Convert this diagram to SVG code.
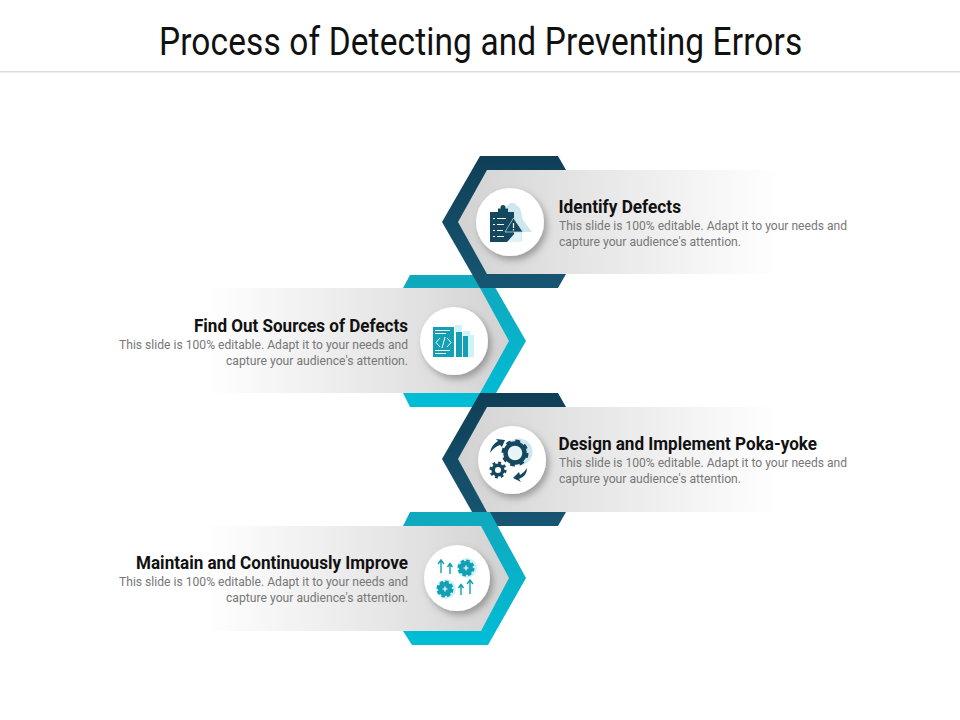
<svg xmlns="http://www.w3.org/2000/svg" width="960" height="720" viewBox="0 0 960 720">
<style>
text{font-family:"Roboto","Liberation Sans",sans-serif}
.title{font-size:38px;fill:#111}
.h{font-size:18px;font-weight:700;fill:#111}
.b{font-size:13px;fill:#777}
.disc{fill:#fff;filter:url(#sh)}
.dark{fill:#14485f}.pale{fill:#cfe6ef}.teal{fill:#139fb4}.palec{fill:#cdf3f8}
.wl{stroke:#fff;stroke-width:1;fill:none}
.arrT{fill:none;stroke:#139fb4;stroke-width:1.4}
</style>
<defs>
<linearGradient id="gd" x1="0" y1="0" x2="0" y2="1"><stop offset="0" stop-color="#0f3f57"/><stop offset="1" stop-color="#175673"/></linearGradient>
<linearGradient id="gc" x1="0" y1="0" x2="0" y2="1"><stop offset="0" stop-color="#10a8bd"/><stop offset="1" stop-color="#00bdd6"/></linearGradient>
<linearGradient id="gl" x1="0" y1="0" x2="1" y2="0"><stop offset="0" stop-color="#d2d2d2"/><stop offset=".4" stop-color="#e6e6e6"/><stop offset="1" stop-color="#fff"/></linearGradient>
<linearGradient id="gr" x1="1" y1="0" x2="0" y2="0"><stop offset="0" stop-color="#d2d2d2"/><stop offset=".4" stop-color="#e6e6e6"/><stop offset="1" stop-color="#fff"/></linearGradient>
<filter id="sh" x="-30%" y="-30%" width="170%" height="170%"><feDropShadow dx="3" dy="4" stdDeviation="3.500" flood-color="#000" flood-opacity=".3"/></filter>
</defs>
<rect width="960" height="720" fill="#fff"/>
<text class="title" transform="translate(159 55) scale(.88 1)" textLength="731" lengthAdjust="spacing">Process of Detecting and Preventing Errors</text>
<rect y="71" width="960" height="1.500" fill="#dcdcdc"/>

<g id="node-2">
<polygon points="410,275 488,275 526,341 488,407 410,407 403,393 403,288" fill="url(#gc)"/>
<polygon points="205,288 480,288 509,341 480,393 205,393" fill="url(#gr)"/>
<circle class="disc" cx="454" cy="341" r="34"/>
<rect class="palec" x="455" y="325" width="7" height="8"/><rect class="palec" x="463" y="331" width="7" height="8"/><rect class="palec" x="468" y="335" width="6" height="22"/>
<rect class="teal" x="433" y="327" width="21" height="30"/><rect class="teal" x="456" y="332" width="6" height="25"/><rect class="teal" x="463" y="336" width="5" height="21"/>
<path class="wl" d="M435 330.500H450M435 333.500H446M435 350.500H450M435 353.500H446M440 338l-4 4.500 4 4.500M447 338l4 4.500-4 4.500M445 337l-3 11"/>
<text class="h" x="194" y="332" textLength="214" lengthAdjust="spacingAndGlyphs">Find Out Sources of Defects</text>
<text class="b" x="119" y="349" textLength="289" lengthAdjust="spacingAndGlyphs">This slide is 100% editable. Adapt it to your needs and</text>
<text class="b" x="226" y="365" textLength="182" lengthAdjust="spacingAndGlyphs">capture your audience's attention.</text>
</g>

<g id="node-1">
<polygon points="480,156 558,156 566,170 566,274 558,288 480,288 442,222" fill="url(#gd)"/>
<polygon points="487,170 780,170 780,274 487,274 458,222" fill="url(#gl)"/>
<circle class="disc" cx="510" cy="222" r="34"/>
<polygon class="pale" points="505,208 510,203 514,203 520,208 523,220 532,232 522,232 522,241 505,241"/>
<rect class="dark" x="490" y="212" width="24" height="30"/><rect class="dark" x="498" y="208.500" width="10" height="5"/><circle class="dark" cx="503" cy="207.500" r="2.500"/>
<path class="wl" stroke-width=".8" d="M493 218.500h2M497 218.500h9M493 224.500h2M497 224.500h7M493 230.500h2M497 230.500h6M493 236.500h2M497 236.500h7"/>
<polygon class="dark" points="513.500,218 523,232 505,232" stroke="#cfe6ef" stroke-width=".7"/>
<path d="M513.500 223v5M513.500 229v1.500" stroke="#fff" stroke-width="1.200"/>
<polygon points="507,242 515,233 521,233 521,242" fill="#e4f1f5"/>
<text class="h" x="558.500" y="213" textLength="122.500" lengthAdjust="spacingAndGlyphs">Identify Defects</text>
<text class="b" x="559" y="230" textLength="288" lengthAdjust="spacingAndGlyphs">This slide is 100% editable. Adapt it to your needs and</text>
<text class="b" x="559" y="246" textLength="182" lengthAdjust="spacingAndGlyphs">capture your audience's attention.</text>
</g>

<g id="node-3">
<polygon points="480,393 558,393 566,407 566,512 558,526 480,526 442,459" fill="url(#gd)"/>
<polygon points="487,407 780,407 780,512 487,512 458,459" fill="url(#gl)"/>
<circle class="disc" cx="512" cy="460" r="34"/>
<circle class="pale" cx="519" cy="452" r="13.500"/>
<circle cx="515" cy="453" r="9.500" fill="#e8f3f7" stroke="#14485f" stroke-width="4.500"/>
<circle cx="515" cy="453" r="12" fill="none" stroke="#14485f" stroke-width="3" stroke-dasharray="4.700 4.720"/>
<circle cx="498" cy="470" r="4.800" fill="#fff" stroke="#14485f" stroke-width="3.500"/>
<circle cx="498" cy="470" r="7.300" fill="none" stroke="#14485f" stroke-width="2.500" stroke-dasharray="2.860 2.870"/>
<path class="dark" d="M490 453Q491 445 498 441L496 439 505 440 502 447 500 445Q494 447 490 453Z"/>
<path class="dark" d="M527 468Q527 476 519 479L521 482 513 478 519 472 520 475Q524 473 527 468Z"/>
<text class="h" x="558.500" y="450" textLength="258.500" lengthAdjust="spacingAndGlyphs">Design and Implement Poka-yoke</text>
<text class="b" x="559" y="467" textLength="288" lengthAdjust="spacingAndGlyphs">This slide is 100% editable. Adapt it to your needs and</text>
<text class="b" x="559" y="483" textLength="182" lengthAdjust="spacingAndGlyphs">capture your audience's attention.</text>
</g>

<g id="node-4">
<polygon points="410,512 490,512 526,578 488,645 412,645 403,631 403,526" fill="url(#gc)"/>
<polygon points="205,526 481,526 509,578 481,631 205,631" fill="url(#gr)"/>
<circle class="disc" cx="457" cy="578" r="33"/>
<circle class="palec" cx="467" cy="568" r="10"/>
<circle class="teal" cx="466" cy="568" r="7"/><circle cx="466" cy="568" r="7" fill="none" stroke="#139fb4" stroke-width="3" stroke-dasharray="3.400 2.100"/>
<circle class="palec" cx="446" cy="589" r="10"/>
<circle class="teal" cx="445" cy="589" r="7"/><circle cx="445" cy="589" r="7" fill="none" stroke="#139fb4" stroke-width="3" stroke-dasharray="3.400 2.100"/>
<path d="M463.500 568h5M466 565.500v5M442.500 589h5M445 586.500v5" stroke="#fff" stroke-width="1.200"/>
<path class="arrT" d="M441 561v12M438 564l3-4 3 4M450 564v10M447.500 567l2.500-3.500 2.500 3.500M461 585v10M458.500 588l2.500-3.500 2.500 3.500M470 581v13M467 584l3-4 3 4"/>
<text class="h" x="136" y="569" textLength="272" lengthAdjust="spacingAndGlyphs">Maintain and Continuously Improve</text>
<text class="b" x="119" y="586" textLength="289" lengthAdjust="spacingAndGlyphs">This slide is 100% editable. Adapt it to your needs and</text>
<text class="b" x="226" y="602" textLength="182" lengthAdjust="spacingAndGlyphs">capture your audience's attention.</text>
</g>
</svg>
